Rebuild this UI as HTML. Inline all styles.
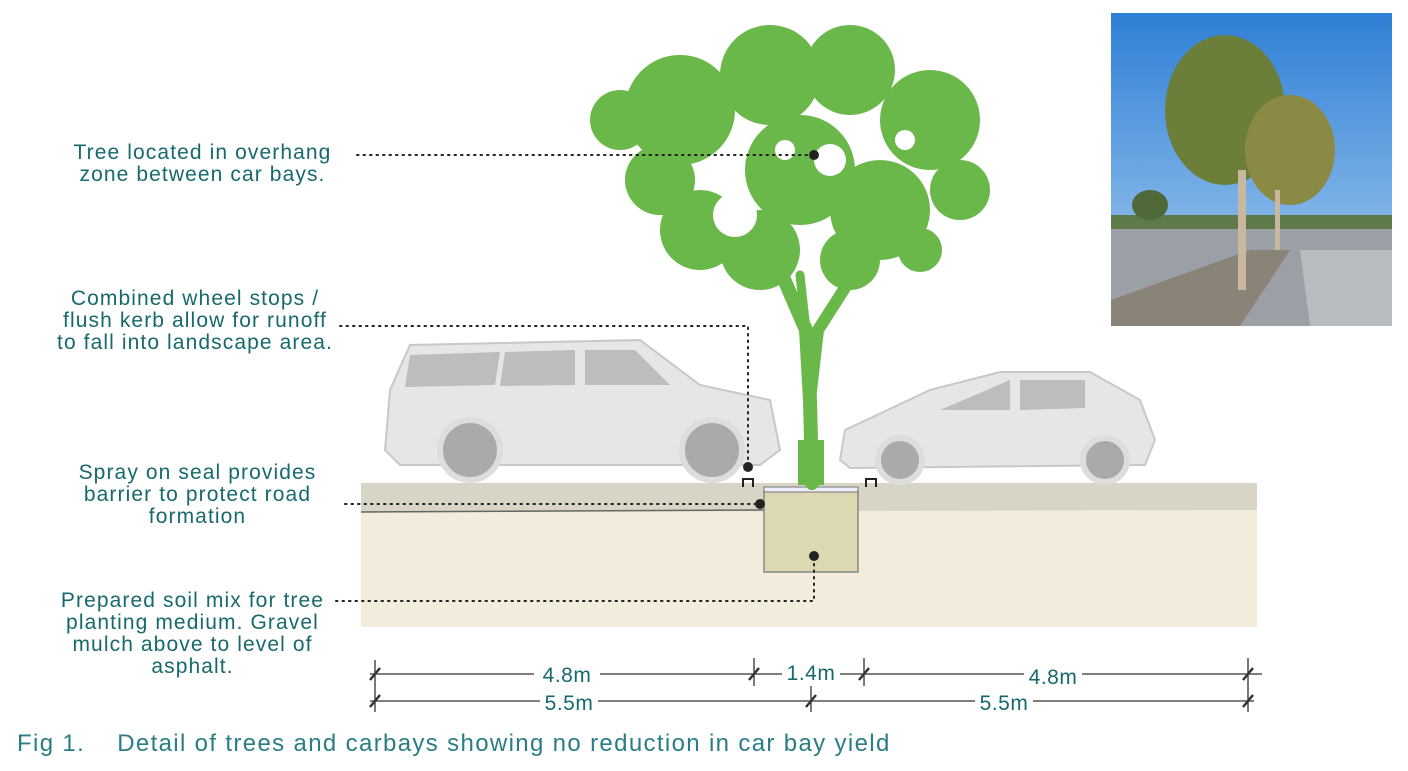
<!DOCTYPE html>
<html><head><meta charset="utf-8"><style>
body{margin:0;width:1408px;height:771px;background:#fff;position:relative;overflow:hidden;font-family:"Liberation Sans",sans-serif;color:#17696d}
.t{position:absolute;font-size:21px;line-height:22px;text-align:center;letter-spacing:1.1px}
</style></head><body>
<svg width="1408" height="771" style="position:absolute;left:0;top:0">
<defs><linearGradient id="sky" x1="0" y1="0" x2="0" y2="1"><stop offset="0" stop-color="#2f7fd6"/><stop offset="1" stop-color="#a9cff0"/></linearGradient></defs>
<rect x="1111" y="13" width="281" height="313" fill="url(#sky)"/>
<rect x="1111" y="228" width="281" height="98" fill="#9aa0a6"/>
<polygon points="1111,300 1250,250 1290,250 1240,326 1111,326" fill="#8a8378"/>
<polygon points="1300,250 1392,250 1392,326 1310,326" fill="#b8bcc0"/>
<rect x="1111" y="215" width="281" height="14" fill="#5e7a48"/>
<ellipse cx="1225" cy="110" rx="60" ry="75" fill="#6b7f3a"/>
<ellipse cx="1290" cy="150" rx="45" ry="55" fill="#8a8a45"/>
<ellipse cx="1150" cy="205" rx="18" ry="15" fill="#4f6a38"/>
<rect x="1238" y="170" width="8" height="120" fill="#c9b7a0"/>
<rect x="1275" y="190" width="5" height="60" fill="#c9b7a0"/>
<rect x="361" y="483" width="896" height="144" fill="#f2ecdc"/>
<polygon points="361,483 1257,483 1257,510 361,512" fill="#d8d4c6"/>
<line x1="361" y1="512" x2="764" y2="510" stroke="#666" stroke-width="1.5"/>
<rect x="764" y="490" width="94" height="82" fill="#dcd8b2" stroke="#888" stroke-width="1.5"/>
<rect x="764" y="487" width="94" height="5" fill="#eef" stroke="#777"/>
<path d="M743,487 v-8 h10 v8" fill="none" stroke="#222" stroke-width="2"/>
<path d="M866,487 v-8 h10 v8" fill="none" stroke="#222" stroke-width="2"/>
<g fill="#6bb84a">
<circle cx="680" cy="110" r="55"/><circle cx="770" cy="75" r="50"/><circle cx="850" cy="70" r="45"/><circle cx="930" cy="120" r="50"/>
<circle cx="960" cy="190" r="30"/><circle cx="620" cy="120" r="30"/><circle cx="660" cy="180" r="35"/><circle cx="700" cy="230" r="40"/>
<circle cx="880" cy="210" r="50"/><circle cx="800" cy="170" r="55"/><circle cx="760" cy="250" r="40"/><circle cx="850" cy="260" r="30"/>
<circle cx="920" cy="250" r="22"/>
</g>
<g fill="none" stroke="#6bb84a" stroke-linecap="round">
<path d="M812,483 L810,400 L806,330 L780,270" stroke-width="14"/>
<path d="M810,400 L818,330 L850,280" stroke-width="12"/>
<path d="M806,330 L800,275" stroke-width="9"/>
</g>
<rect x="798" y="440" width="26" height="45" fill="#6bb84a"/>
<g fill="#fff"><circle cx="735" cy="215" r="22"/><circle cx="830" cy="160" r="16"/><circle cx="785" cy="150" r="10"/><circle cx="905" cy="140" r="10"/></g>
<g fill="#e6e6e6" stroke="#c8c8c8" stroke-width="2">
<path d="M385,450 L390,390 L410,345 L640,340 L700,385 L770,400 L780,450 L760,465 L400,465 Z"/>
<path d="M840,460 L845,430 L930,390 L1000,372 L1090,372 L1140,400 L1155,440 L1145,465 L850,468 Z"/>
</g>
<g fill="#bdbdbd"><polygon points="410,355 500,352 495,385 405,387"/><polygon points="505,352 575,350 575,385 500,386"/><polygon points="585,350 635,350 670,385 585,385"/>
<polygon points="940,410 1010,380 1010,410"/><polygon points="1020,380 1085,380 1085,408 1020,410"/></g>
<g fill="#aaa" stroke="#ddd" stroke-width="6"><circle cx="470" cy="450" r="30"/><circle cx="712" cy="450" r="30"/><circle cx="900" cy="460" r="22"/><circle cx="1105" cy="460" r="22"/></g>
<g stroke="#222" stroke-width="2" stroke-dasharray="1.5 5" fill="none" stroke-linecap="round">
<line x1="357" y1="155" x2="814" y2="155"/>
<polyline points="340,326 748,326 748,467"/>
<line x1="345" y1="504" x2="760" y2="504"/>
<polyline points="336,601 814,601 814,556"/>
</g>
<g fill="#222"><circle cx="814" cy="155" r="5"/><circle cx="748" cy="467" r="5"/><circle cx="760" cy="504" r="5"/><circle cx="814" cy="556" r="5"/></g>
<g stroke="#333" stroke-width="1.3">
<line x1="370" y1="674" x2="1262" y2="674"/><line x1="370" y1="701" x2="1254" y2="701"/>
<line x1="375" y1="660" x2="375" y2="712"/><line x1="754" y1="658" x2="754" y2="686"/><line x1="864" y1="658" x2="864" y2="686"/><line x1="1248" y1="658" x2="1248" y2="712"/><line x1="811" y1="686" x2="811" y2="712"/>
<g stroke-width="2.5"><line x1="370" y1="680" x2="380" y2="668"/><line x1="370" y1="707" x2="380" y2="695"/><line x1="749" y1="680" x2="759" y2="668"/><line x1="859" y1="680" x2="869" y2="668"/><line x1="1243" y1="680" x2="1253" y2="668"/><line x1="1243" y1="707" x2="1253" y2="695"/><line x1="806" y1="707" x2="816" y2="695"/></g>
</g>
<g font-family="Liberation Sans" font-size="21" fill="#17696d" text-anchor="middle" letter-spacing="0.5">
<rect x="534" y="662" width="66" height="24" fill="#fff"/><text x="567" y="682">4.8m</text>
<rect x="782" y="662" width="58" height="24" fill="#fff"/><text x="811" y="680">1.4m</text>
<rect x="1024" y="664" width="58" height="24" fill="#fff"/><text x="1053" y="684">4.8m</text>
<rect x="540" y="690" width="58" height="24" fill="#fff"/><text x="569" y="710">5.5m</text>
<rect x="975" y="690" width="58" height="24" fill="#fff"/><text x="1004" y="710">5.5m</text>
</g>
</svg>
<div class="t" style="left:40px;top:142px;width:325px">Tree located in overhang<br>zone between car bays.</div>
<div class="t" style="left:30px;top:288px;width:330px">Combined wheel stops /<br>flush kerb allow for runoff<br>to fall into landscape area.</div>
<div class="t" style="left:40px;top:462px;width:315px">Spray on seal provides<br>barrier to protect road<br>formation</div>
<div class="t" style="left:30px;top:590px;width:325px">Prepared soil mix for tree<br>planting medium. Gravel<br>mulch above to level of<br>asphalt.</div>
<div class="t" style="left:17px;top:733px;font-size:24px;text-align:left;letter-spacing:1.35px;color:#2a7d86">Fig 1.&nbsp;&nbsp;&nbsp;&nbsp;Detail of trees and carbays showing no reduction in car bay yield</div>
</body></html>
